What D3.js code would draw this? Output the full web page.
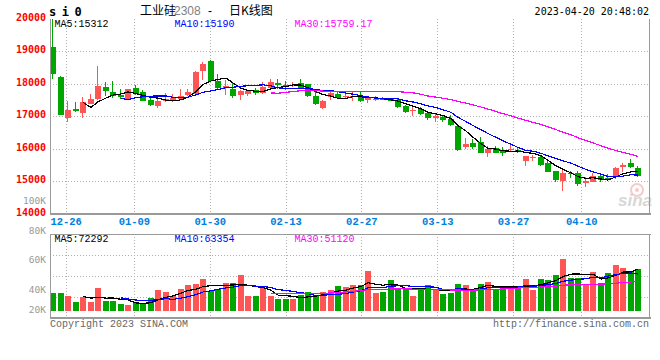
<!DOCTYPE html>
<html>
<head>
<meta charset="utf-8">
<script src="https://cdn.jsdelivr.net/npm/d3@7"></script>
<style>
  body { margin: 0; background: #fff; }
  svg { display: block; }
  .mono { font-family: "Liberation Mono", "DejaVu Sans Mono", monospace; }
</style>
</head>
<body>
<div id="chart"></div>
<script>
// trading days of si2308 (listed 2022-12-22)
var dates = [
  "12-22","12-23","12-26","12-27","12-28","12-29","12-30",
  "01-03","01-04","01-05","01-06","01-09","01-10","01-11","01-12","01-13",
  "01-16","01-17","01-18","01-19","01-20","01-30","01-31",
  "02-01","02-02","02-03","02-06","02-07","02-08","02-09","02-10","02-13","02-14",
  "02-15","02-16","02-17","02-20","02-21","02-22","02-23","02-24","02-27","02-28",
  "03-01","03-02","03-03","03-06","03-07","03-08","03-09","03-10","03-13","03-14",
  "03-15","03-16","03-17","03-20","03-21","03-22","03-23","03-24","03-27","03-28",
  "03-29","03-30","03-31",
  "04-03","04-04","04-06","04-07","04-10","04-11","04-12","04-13","04-14",
  "04-17","04-18","04-19","04-20"
];

var opens = [
  19120,18199,16942,17209,17095,17371,17515,17883,17730,17638,
  17525,17853,17730,17494,17310,17463,17454,17525,17647,17690,
  18384,18690,18077,17862,17831,17660,17690,17791,17721,17874,
  18016,17966,17914,18006,17975,17629,17261,17577,17669,17598,
  17586,17617,17505,17500,17546,17520,17494,17300,17147,17209,
  17086,16953,16972,16923,16687,16034,16166,16196,15868,16003,
  15950,15960,15950,15623,15696,15745,15561,15307,15009,15254,
  15236,14929,14978,15153,15100,15113,15420,15561,15408
];
var highs = [
  20000,18230,17454,17423,17577,17690,18537,18037,18067,17822,
  17830,17945,17791,17586,17555,17699,17669,17822,17822,18384,
  18650,18733,18291,18098,18016,17811,17811,17853,18037,18129,
  18129,18067,18037,18129,17990,17730,17506,17811,17730,17709,
  17740,17730,17617,17617,17600,17560,17560,17340,17300,17270,
  17147,17060,17040,17020,16718,16328,16297,16340,16070,16080,
  16040,16110,16030,15780,15810,15810,15620,15320,15337,15300,
  15300,15123,15245,15215,15215,15420,15561,15675,15460
];
var lows = [
  18129,17030,16819,17117,16942,17360,17500,17607,17555,17536,
  17520,17660,17455,17301,17248,17440,17440,17520,17617,17680,
  18098,18047,17843,17647,17555,17506,17629,17660,17690,17860,
  17843,17811,17900,17843,17586,17331,17230,17494,17515,17525,
  17454,17440,17402,17460,17480,17450,17260,17086,16994,17040,
  16870,16819,16810,16696,15929,15982,15982,15850,15745,15850,
  15770,15900,15870,15470,15620,15460,15280,14980,14693,15100,
  14847,14826,14960,14960,15020,15070,15285,15410,15132
];
var closes = [
  18304,17046,17178,17147,17423,17515,17914,17761,17617,17586,
  17822,17669,17463,17340,17463,17515,17546,17629,17730,18353,
  18598,18077,17874,17914,17629,17770,17761,17721,17905,18037,
  17966,17914,17966,17874,17617,17371,17475,17709,17546,17629,
  17617,17463,17546,17530,17484,17463,17270,17117,17188,17056,
  16953,17003,16871,16718,15960,16135,16052,15868,15990,15868,
  15868,15990,15890,15767,15745,15491,15285,15031,15236,15215,
  14908,15000,15153,15031,15061,15389,15491,15420,15163
];
var volumes = [
  32700,32700,27200,16200,24800,16200,41900,18000,18000,12500,
  10700,14300,14300,23500,38200,34600,27200,40000,47400,49300,
  58500,36400,40000,51100,51100,65800,27200,27200,41900,27200,
  21700,21700,21700,29000,34600,29000,34600,38200,45600,43800,
  47400,47400,73200,32700,34600,56600,40000,42600,27200,40000,
  47400,40000,30900,32700,49300,47400,36400,49300,52900,38200,
  45600,40000,45600,58500,38200,58500,56600,65800,95200,60300,
  60300,49300,71300,51100,69500,84200,78700,73200,76800
];

var dateTicks = ["12-26","01-09","01-30","02-13","02-27","03-13","03-27","04-10"];
var priceTicks = [14000, 15000, 16000, 17000, 18000, 19000, 20000];
var priceGrid = [15000, 16000, 17000, 18000, 19000];
var volTicks = [20000, 40000, 60000, 80000, 100000];
var maPeriods = [5, 10, 30];
var maColors = ["#000000", "#0000ff", "#ff00ff"];
var priceMaLabels = ["MA5:15312", "MA10:15190", "MA30:15759.17"];
var volMaLabels = ["MA5:72292", "MA10:63354", "MA30:51120"];

var W = 660, H = 360;
var left = 50, right = 649.5;
var pTop = 19, pBottom = 213.5;
var vTop = 234.3, vBottom = 317.7;

var upColor = "#ff5555", downColor = "#00a600";
var gridColor = "#b0b0b0", axisColor = "#9a9a9a";

var svg = d3.select("#chart").append("svg")
    .attr("width", W)
    .attr("height", H);

// scales
var x = d3.scaleBand()
    .domain(dates)
    .range([49.25, 49.25 + dates.length * 7.5])
    .paddingInner(0.2)
    .paddingOuter(0.1);
var xGrid = d3.scaleLinear().domain([0, dates.length]).range([left + 0.5, right]);
var yPrice = d3.scaleLinear().domain([14000, 20000]).range([pBottom, 18.5]);
var yVol = d3.scaleLinear().domain([0, 140000]).range([311, vTop]);
// sina puts its volume labels on a scale of their own
var yVolLabel = d3.scaleLinear().domain([0, 100000]).range([350, 200.7]);

function cx(i) { return Math.round(x(dates[i])) + 3; }

// moving average of a series, starts once n values exist
function movingAvg(arr, n) {
  var out = [];
  for (var i = n - 1; i < arr.length; i++) {
    out.push({ i: i, v: d3.mean(arr.slice(i - n + 1, i + 1)) });
  }
  return out;
}

var tickIdx = dateTicks.map(function(d) { return dates.indexOf(d); });

// ---- grid lines
var grid = svg.append("g")
    .attr("stroke", gridColor)
    .attr("stroke-dasharray", "1,2")
    .attr("shape-rendering", "crispEdges");

grid.selectAll("line.hp")
    .data(priceGrid)
  .enter().append("line")
    .attr("x1", left).attr("x2", right)
    .attr("y1", function(d) { return Math.round(yPrice(d)) + 0.5; })
    .attr("y2", function(d) { return Math.round(yPrice(d)) + 0.5; });

grid.selectAll("line.hv")
    .data([1, 2, 3])
  .enter().append("line")
    .attr("x1", left).attr("x2", right)
    .attr("y1", function(d) { return Math.round(vTop + d * (vBottom - vTop) / 4) + 0.5; })
    .attr("y2", function(d) { return Math.round(vTop + d * (vBottom - vTop) / 4) + 0.5; });

grid.selectAll("line.vp")
    .data(tickIdx)
  .enter().append("line")
    .attr("x1", function(d) { return Math.round(xGrid(d)) + 0.5; })
    .attr("x2", function(d) { return Math.round(xGrid(d)) + 0.5; })
    .attr("y1", pTop).attr("y2", pBottom);

grid.selectAll("line.vv")
    .data(tickIdx)
  .enter().append("line")
    .attr("x1", function(d) { return Math.round(xGrid(d)) + 0.5; })
    .attr("x2", function(d) { return Math.round(xGrid(d)) + 0.5; })
    .attr("y1", vTop).attr("y2", vBottom);

// ---- sina watermark
var wm = svg.append("g").attr("opacity", 0.55);
wm.append("circle").attr("cx", 637).attr("cy", 190).attr("r", 6)
    .attr("fill", "none").attr("stroke", "#f0a0a0").attr("stroke-width", 2);
wm.append("circle").attr("cx", 637).attr("cy", 190).attr("r", 2).attr("fill", "#f0a0a0");
wm.append("text").attr("x", 618).attr("y", 206)
    .attr("font-family", "Liberation Sans, Arial, sans-serif")
    .attr("font-style", "italic").attr("font-weight", "bold")
    .attr("font-size", 17).attr("fill", "#b8b8b8")
    .text("sina");

// ---- candles
var candles = svg.append("g").attr("shape-rendering", "crispEdges");
var cg = candles.selectAll("g")
    .data(dates)
  .enter().append("g")
    .attr("fill", function(d, i) { return closes[i] >= opens[i] ? upColor : downColor; })
    .attr("stroke", function(d, i) { return closes[i] >= opens[i] ? upColor : downColor; });

cg.append("line")
    .attr("x1", function(d, i) { return cx(i) - 0.5; })
    .attr("x2", function(d, i) { return cx(i) - 0.5; })
    .attr("y1", function(d, i) { return yPrice(highs[i]); })
    .attr("y2", function(d, i) { return yPrice(lows[i]); });

cg.append("rect")
    .attr("stroke", "none")
    .attr("x", function(d) { return Math.round(x(d)); })
    .attr("width", x.bandwidth())
    .attr("y", function(d, i) { return yPrice(Math.max(opens[i], closes[i])); })
    .attr("height", function(d, i) {
      return Math.max(1, yPrice(Math.min(opens[i], closes[i])) - yPrice(Math.max(opens[i], closes[i])));
    });

// ---- volume bars
svg.append("g").attr("shape-rendering", "crispEdges")
  .selectAll("rect")
    .data(dates)
  .enter().append("rect")
    .attr("x", function(d) { return Math.round(x(d)); })
    .attr("width", x.bandwidth())
    .attr("y", function(d, i) { return yVol(volumes[i]); })
    .attr("height", function(d, i) { return yVol(0) - yVol(volumes[i]); })
    .attr("fill", function(d, i) { return closes[i] >= opens[i] ? upColor : downColor; });

// ---- moving averages
maPeriods.forEach(function(n, k) {
  var priceLine = d3.line()
      .x(function(d) { return cx(d.i); })
      .y(function(d) { return yPrice(d.v); });
  svg.append("path")
      .datum(movingAvg(closes, n))
      .attr("d", priceLine)
      .attr("fill", "none")
      .attr("stroke", maColors[k])
      .attr("stroke-width", 1.2)
      .attr("shape-rendering", "crispEdges");

  var volLine = d3.line()
      .x(function(d) { return cx(d.i); })
      .y(function(d) { return yVol(d.v); });
  svg.append("path")
      .datum(movingAvg(volumes, n))
      .attr("d", volLine)
      .attr("fill", "none")
      .attr("stroke", maColors[k])
      .attr("stroke-width", 1.2)
      .attr("shape-rendering", "crispEdges");
});

// ---- frame lines
var frame = svg.append("g")
    .attr("stroke", axisColor)
    .attr("shape-rendering", "crispEdges");
frame.append("line").attr("x1", left + 0.5).attr("x2", left + 0.5).attr("y1", pTop).attr("y2", pBottom + 1);
frame.append("line").attr("x1", right).attr("x2", right).attr("y1", pTop).attr("y2", pBottom + 1);
frame.append("line").attr("x1", left).attr("x2", right + 1).attr("y1", pBottom).attr("y2", pBottom).attr("stroke-width", 2);
frame.append("line").attr("x1", left + 0.5).attr("x2", left + 0.5).attr("y1", vTop).attr("y2", vBottom);
frame.append("line").attr("x1", right).attr("x2", right).attr("y1", vTop).attr("y2", vBottom);
frame.append("line").attr("x1", left).attr("x2", right + 1).attr("y1", vTop).attr("y2", vTop);
frame.append("line").attr("x1", left).attr("x2", right + 1).attr("y1", vBottom).attr("y2", vBottom).attr("stroke-width", 2);

// ---- price axis labels
var yAxis = svg.append("g")
    .attr("transform", "translate(" + left + ",0)")
    .call(d3.axisLeft(yPrice).tickValues(priceTicks).tickSize(0).tickPadding(4).tickFormat(d3.format("d")));
yAxis.select(".domain").remove();
yAxis.selectAll("text")
    .attr("dy", "0.15em")
    .attr("fill", "#ff0000")
    .attr("font-family", "DejaVu Sans Mono, monospace")
    .attr("font-weight", "bold")
    .attr("font-size", 10);

// ---- volume axis labels
svg.append("g").selectAll("text")
    .data(volTicks)
  .enter().append("text")
    .attr("x", 46)
    .attr("y", function(d) { return Math.min(yVolLabel(d), 310.3); })
    .attr("dy", "0.32em")
    .attr("text-anchor", "end")
    .attr("fill", "#9a9a9a")
    .attr("font-family", "DejaVu Sans Mono, monospace")
    .attr("font-size", 9.5)
    .text(function(d) { return (d / 1000) + "K"; });

// ---- date axis
var xAxis = svg.append("g")
    .attr("transform", "translate(0," + pBottom + ")")
    .call(d3.axisBottom(xGrid).tickValues(tickIdx).tickSize(0).tickPadding(4)
      .tickFormat(function(i) { return dates[i]; }));
xAxis.select(".domain").remove();
xAxis.selectAll("text")
    .attr("fill", "#0080e0")
    .attr("font-family", "Liberation Mono, DejaVu Sans Mono, monospace")
    .attr("font-weight", "bold")
    .attr("font-size", 10.5);

// ---- MA legends
function legend(labels, y) {
  svg.append("g").selectAll("text")
      .data(labels)
    .enter().append("text")
      .attr("class", "mono")
      .attr("x", function(d, i) { return 54.5 + i * 120; })
      .attr("y", y)
      .attr("font-size", 10)
      .attr("fill", function(d, i) { return maColors[i]; })
      .text(function(d) { return d; });
}
legend(priceMaLabels, 27);
legend(volMaLabels, 241.5);

// ---- header
svg.append("text")
    .attr("x", 49).attr("y", 15.5)
    .attr("font-family", "DejaVu Sans Mono, monospace")
    .attr("font-weight", "bold")
    .attr("font-size", 12)
    .attr("letter-spacing", 5.5)
    .text("si0");

var title = svg.append("g").attr("font-size", 12);
title.append("text").attr("x", 140).attr("y", 15)
    .attr("font-family", "Noto Sans CJK SC, sans-serif").text("工业硅");
title.append("text").attr("x", 174).attr("y", 15)
    .attr("font-family", "Liberation Sans, Arial, sans-serif").attr("fill", "#808080").text("2308");
title.append("text").attr("x", 208).attr("y", 15)
    .attr("font-family", "Liberation Sans, Arial, sans-serif").text("-");
title.append("text").attr("x", 229).attr("y", 15)
    .attr("font-family", "Noto Sans CJK SC, sans-serif").text("日K线图");

svg.append("text")
    .attr("x", 649).attr("y", 15)
    .attr("text-anchor", "end")
    .attr("font-family", "DejaVu Sans Mono, monospace")
    .attr("font-size", 10)
    .text("2023-04-20 20:48:02");

// ---- footer
svg.append("text")
    .attr("class", "mono")
    .attr("x", 50).attr("y", 327)
    .attr("font-size", 10)
    .attr("fill", "#666")
    .text("Copyright 2023 SINA.COM");
svg.append("text")
    .attr("class", "mono")
    .attr("x", 649).attr("y", 327)
    .attr("text-anchor", "end")
    .attr("font-size", 10)
    .attr("fill", "#666")
    .text("http://finance.sina.com.cn");
</script>
</body>
</html>
